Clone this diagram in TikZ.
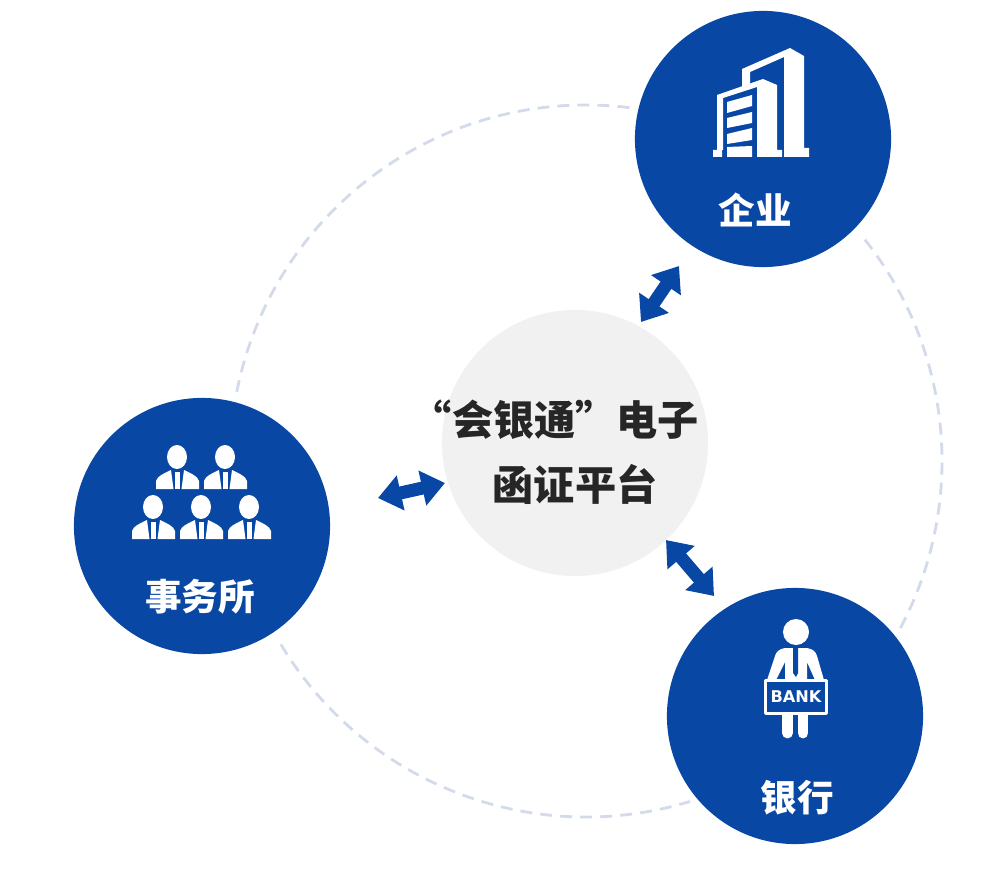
\documentclass[tikz,border=0pt]{standalone}
\usepackage{fontspec}
\newfontfamily\cjk{Noto Sans CJK SC}
\newfontfamily\signfont{DejaVu Sans}
\usetikzlibrary{arrows.meta}
\definecolor{mainblue}{HTML}{0848A4}
\definecolor{ringgray}{HTML}{D3DBEB}
\definecolor{hubgray}{HTML}{F1F1F1}
\tikzset{
  party/.style={circle,fill=mainblue,minimum size=2.56cm,inner sep=0pt},
  partylabel/.style={white,font=\cjk\bfseries\fontsize{10.4}{12}\selectfont,inner sep=0pt},
  hublabel/.style={text=black!85,font=\cjk\bfseries\fontsize{11.7}{14}\selectfont,inner sep=0pt},
  ring/.style={ringgray,line width=0.8pt,dash pattern=on 3.4pt off 2.3pt},
  dblarrow/.style={mainblue,line width=3.7pt,{Triangle[length=6.6pt,width=9.8pt]}-{Triangle[length=6.6pt,width=9.8pt]}}
}
\begin{document}
\begin{tikzpicture}[x=0.01cm,y=-0.01cm,line join=round]
	\useasboundingbox (0,0) rectangle (1000,876);
	% dashed ring
	\draw[ring] (586,461)+(-83:356) arc (-83:-169:356);
	\draw[ring] (586,461)+(149:356) arc (149:73:356);
	\draw[ring] (586,461)+(28:356) arc (28:-39:356);
	% circles
	\node[circle,fill=hubgray,minimum size=2.66cm,inner sep=0pt] (hub) at (575,443) {};
	\node[party] (company) at (763,139) {};
	\node[party] (firm) at (202,526) {};
	\node[party] (bank) at (795,716) {};
	% labels
	\node[hublabel] (hubtexta) at (555,420) {“会银通”电子};
	\node[hublabel] (hubtextb) at (575,484) {函证平台};
	\node[partylabel] (companytext) at (755,210) {企业};
	\node[partylabel] (firmtext) at (200,597) {事务所};
	\node[partylabel] (banktext) at (797,798) {银行};
	% arrows
	\coordinate (a1) at (641,322);
	\coordinate (a2) at (679,266);
	\coordinate (b1) at (378,498);
	\coordinate (b2) at (445,483);
	\coordinate (c1) at (666,540);
	\coordinate (c2) at (714,596);
	\draw[dblarrow] (a1) -- (a2);
	\draw[dblarrow] (b1) -- (b2);
	\draw[dblarrow] (c1) -- (c2);
	% building
	\fill[white] (742,69) -- (790,48) -- (804,56) -- (804,148) -- (809,148) -- (809,157) -- (784,157) -- (784,57) -- (750,72) -- (750,85) -- (742,88) -- cycle;
	\fill[white] (717,95) -- (763,79) -- (777,85) -- (777,150) -- (782,150) -- (782,157) -- (757,157) -- (757,87) -- (723,98) -- (723,150) -- (722,150) -- (722,157) -- (713,157) -- (713,150) -- (717,150) -- cycle;
	\fill[white] (727,102) -- (752,95) -- (752,106) -- (727,113) -- cycle;
	\fill[white] (727,118) -- (752,112) -- (752,123) -- (727,128) -- cycle;
	\fill[white] (727,134) -- (752,128) -- (752,140) -- (727,144) -- cycle;
	\fill[white] (727,147) -- (752,146) -- (752,157) -- (727,157) -- cycle;
	% people
	\foreach \x/\y in {177/457,225/457,153/507,201/507,249/507}{
		\fill[white] (\x,\y) ellipse (10 and 12);
		\fill[white] (\x-21,\y+32) -- (\x-21,\y+24) .. controls (\x-20,\y+19) and (\x-12,\y+16) .. (\x-6,\y+13) -- (\x-3.5,\y+32) -- cycle;
		\fill[white] (\x-2,\y+15) -- (\x+3,\y+15) -- (\x+3,\y+32) -- (\x-2,\y+32) -- cycle;
		\fill[white] (\x+7,\y+13) .. controls (\x+13,\y+16) and (\x+21,\y+19) .. (\x+22,\y+24) -- (\x+22,\y+32) -- (\x+4.5,\y+32) -- cycle;
	}
	% banker
	\fill[white] (796,632) circle (13);
	\fill[white] (785,648) -- (807,648) .. controls (813,649) and (816,652) .. (817,656) -- (824,680) -- (815,680) -- (807,662) -- (807,680) -- (785,680) -- (785,662) -- (776,680) -- (767,680) -- (775,656) .. controls (776,652) and (779,649) .. (785,648) -- cycle;
	\fill[mainblue] (793,648) -- (798,648) -- (798,673) -- (796,677) -- (793,673) -- cycle;
	\draw[white,line width=3.1pt,line cap=round] (787.5,715) -- (787.5,733) (803,715) -- (803,733);
	\node[draw=white,fill=mainblue,line width=1.1pt,minimum width=0.61cm,minimum height=0.33cm,inner sep=0pt,text=white,font=\signfont\bfseries\fontsize{4.6}{6}\selectfont] (banksign) at (796,697) {BANK};
\end{tikzpicture}
\end{document}
